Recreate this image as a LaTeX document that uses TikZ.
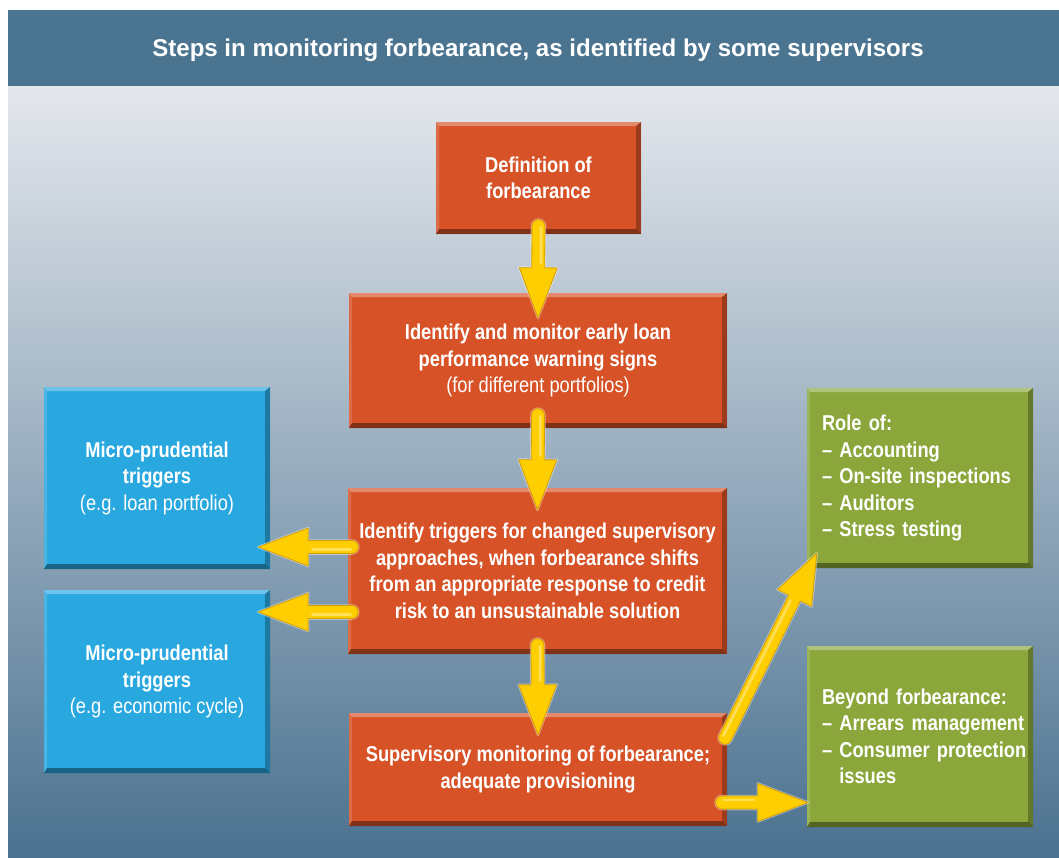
\documentclass[tikz,border=0pt]{standalone}
\usepackage{fontspec}
\setmainfont{Liberation Sans}[FakeStretch=0.85]
\newfontfamily\titlefamily{Liberation Sans}[FakeStretch=0.99]
\usetikzlibrary{calc}
\definecolor{band}{HTML}{4A7490}
\definecolor{bgtop}{HTML}{E4E7EC}
\definecolor{bgbot}{HTML}{4B7290}
\definecolor{orangebox}{HTML}{D75327}
\definecolor{bluebox}{HTML}{29A8E0}
\definecolor{greenbox}{HTML}{8BA73B}
\definecolor{arrowyellow}{HTML}{FFCE00}
\definecolor{arrowedge}{HTML}{D49C00}
\newcommand\fatarrow[2]{%
  \path let \p1=(#1), \p2=(#2), \n1={atan2(\y2-\y1,\x2-\x1)}, \n2={veclen(\x2-\x1,\y2-\y1)} in \pgfextra{\xdef\faang{\n1}\xdef\falen{\n2}};
  \begin{scope}[shift={(#1)}, rotate=\faang]
    \draw[white, opacity=0.45, line width=2.5pt, line join=round] (0,-6.5) -- (\falen-50,-6.5) -- (\falen-50,-19) -- (\falen,0) -- (\falen-50,19) -- (\falen-50,6.5) -- (0,6.5) arc[start angle=90, end angle=270, radius=6.5] -- cycle;
    \filldraw[fill=arrowyellow, draw=arrowedge, line width=0.8pt, line join=round] (0,-6.5) -- (\falen-50,-6.5) -- (\falen-50,-19) -- (\falen,0) -- (\falen-50,19) -- (\falen-50,6.5) -- (0,6.5) arc[start angle=90, end angle=270, radius=6.5] -- cycle;
    \draw[white, opacity=0.35, line width=2.5pt, line cap=round] (1,-2.5) -- (\falen-54,-2.5);
  \end{scope}}
\tikzset{
  bevel/.style={path picture={
    \coordinate (nw) at (path picture bounding box.north west);
    \coordinate (ne) at (path picture bounding box.north east);
    \coordinate (sw) at (path picture bounding box.south west);
    \coordinate (se) at (path picture bounding box.south east);
    \fill[white, opacity=0.32] (nw) -- (ne) -- ([xshift=-5pt,yshift=-4pt]ne) -- ([xshift=3pt,yshift=-4pt]nw) -- cycle;
    \fill[white, opacity=0.15] (nw) -- ([xshift=3pt,yshift=-4pt]nw) -- ([xshift=3pt,yshift=5pt]sw) -- (sw) -- cycle;
    \fill[black, opacity=0.28] (ne) -- (se) -- ([xshift=-5pt,yshift=5pt]se) -- ([xshift=-5pt,yshift=-4pt]ne) -- cycle;
    \fill[black, opacity=0.4] (sw) -- (se) -- ([xshift=-5pt,yshift=5pt]se) -- ([xshift=3pt,yshift=5pt]sw) -- cycle;
  }},
  boxbase/.style={rectangle, bevel, text=white, inner sep=0pt, font=\bfseries\fontsize{21.5}{26.5}\selectfont},
  obox/.style={boxbase, fill=orangebox, align=center},
  bbox/.style={boxbase, fill=bluebox, align=center},
  gbox/.style={boxbase, fill=greenbox, align=left, text width=196pt},
  titletext/.style={text=white, font=\titlefamily\bfseries\fontsize{24.3}{28}\selectfont},
}
\newcommand\lite[1]{{\mdseries #1}}
\begin{document}
\begin{tikzpicture}[x=1pt, y=-1pt]
\useasboundingbox (0,0) rectangle (1059,857);
\fill[white] (0,0) rectangle (1059,857);
\shade[top color=bgtop, bottom color=bgbot] (8,86) rectangle (1059,857);
\fill[band] (8,10) rectangle (1059,86);
\node[titletext, anchor=base] (title) at (538,56) {Steps in monitoring forbearance, as identified by some supervisors};

\node[obox, minimum width=205pt, minimum height=112pt] (def) at (538.5,178) {Definition of\\forbearance};
\node[obox, minimum width=378pt, minimum height=135pt] (mon) at (538,360.5) {Identify and monitor early loan\\performance warning signs\\\lite{(for different portfolios)}};
\node[obox, minimum width=379pt, minimum height=166pt] (trig) at (537.5,571) {Identify triggers for changed supervisory\\approaches, when forbearance shifts\\from an appropriate response to credit\\risk to an unsustainable solution};
\node[obox, minimum width=378pt, minimum height=113pt] (sup) at (538,769.5) {Supervisory monitoring of forbearance;\\adequate provisioning};
\node[bbox, minimum width=226pt, minimum height=182pt] (micro1) at (157,478) {Micro-prudential\\triggers\\\lite{(e.g. loan portfolio)}};
\node[bbox, minimum width=226pt, minimum height=183pt] (micro2) at (157,681.5) {Micro-prudential\\triggers\\\lite{(e.g. economic cycle)}};
\node[gbox, minimum width=226pt, minimum height=180pt] (role) at (920,478) {\mbox{Role of:}\\\mbox{-- Accounting}\\\mbox{-- On-site inspections}\\\mbox{-- Auditors}\\\mbox{-- Stress testing}};
\node[gbox, minimum width=226pt, minimum height=181pt] (beyond) at (920,736.5) {\mbox{Beyond forbearance:}\\\mbox{-- Arrears management}\\\mbox{-- Consumer protection}\\\mbox{\phantom{-- }issues}};

\coordinate (a1s) at ([yshift=8pt]def.south);
\coordinate (a1t) at ([yshift=-25pt]mon.north);
\coordinate (a2s) at ([yshift=13pt]mon.south);
\coordinate (a2t) at ([yshift=-22pt]trig.north);
\coordinate (a3s) at ([yshift=9pt]trig.south);
\coordinate (a3t) at ([yshift=-22pt]sup.north);
\coordinate (a4s) at ([xshift=4pt,yshift=24pt]trig.west);
\coordinate (a4t) at ($(micro1.east |- a4s)+(-12,0)$);
\coordinate (a5s) at ([xshift=4pt,yshift=-41pt]trig.west);
\coordinate (a5t) at ($(micro2.east |- a5s)+(-12,0)$);
\coordinate (a6s) at ($(sup.north east)+(-2,25)$);
\coordinate (a6t) at ($(role.south west)+(10,-15)$);
\coordinate (a7s) at ($(sup.east)+(-5,33)$);
\coordinate (a7t) at ($(beyond.west |- a7s)+(1,0)$);
\fatarrow{a1s}{a1t}
\fatarrow{a2s}{a2t}
\fatarrow{a3s}{a3t}
\fatarrow{a4s}{a4t}
\fatarrow{a5s}{a5t}
\fatarrow{a6s}{a6t}
\fatarrow{a7s}{a7t}
\end{tikzpicture}
\end{document}
